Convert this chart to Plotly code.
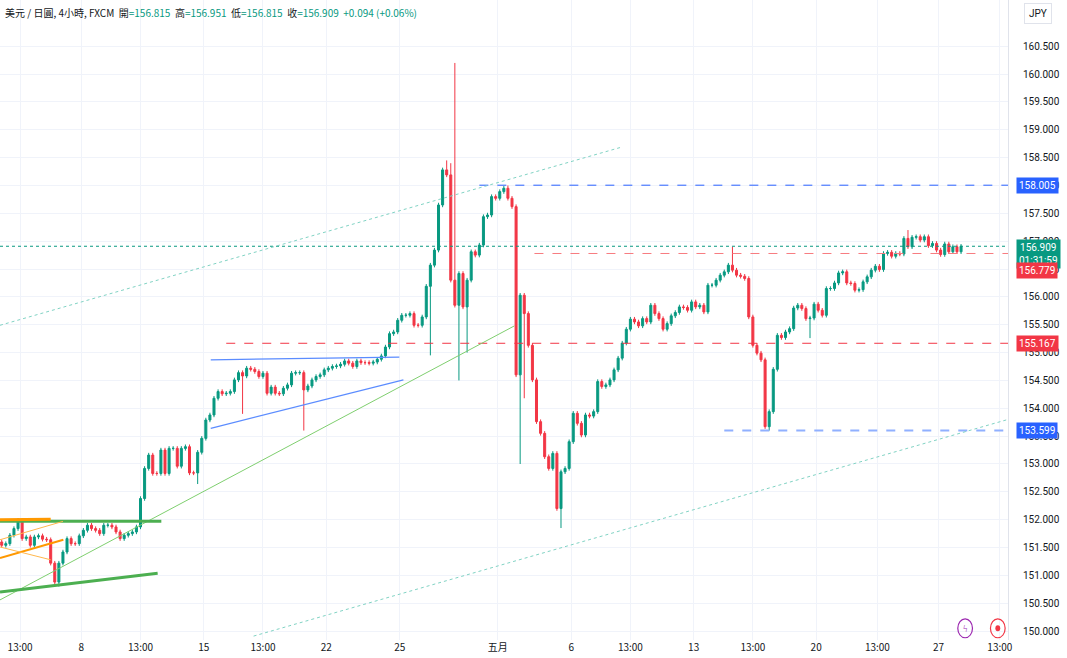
import plotly.graph_objects as go

# 4h closes (open = previous close)
first_open = 151.60
closes = [
    151.54, 151.57, 151.72, 151.84, 151.99, 151.66, 151.69, 151.54, 151.69, 151.71,
    151.65, 151.64, 151.22, 150.88, 151.22, 151.42, 151.66, 151.57, 151.57, 151.71,
    151.81, 151.90, 151.84, 151.81, 151.75, 151.90, 151.90, 151.87, 151.78, 151.66,
    151.72, 151.75, 151.78, 151.87, 152.38, 152.92, 153.16, 152.83, 152.83, 153.25,
    152.83, 153.28, 153.28, 152.96, 153.28, 153.31, 152.84, 152.84, 153.21, 153.46,
    153.79, 153.88, 154.18, 154.30, 154.26, 154.27, 154.30, 154.51, 154.64, 154.58,
    154.72, 154.70, 154.66, 154.57, 154.63, 154.27, 154.38, 154.27, 154.26, 154.36,
    154.42, 154.63, 154.64, 154.64, 154.33, 154.40, 154.51, 154.57, 154.60, 154.69,
    154.72, 154.75, 154.76, 154.79, 154.85, 154.81, 154.75, 154.85, 154.82, 154.82,
    154.81, 154.83, 154.88, 154.94, 155.10, 155.34, 155.37, 155.58, 155.67, 155.67,
    155.70, 155.49, 155.49, 155.64, 156.19, 156.57, 156.84, 157.65, 158.28, 158.19,
    156.30, 155.85, 156.42, 155.82, 156.30, 156.81, 156.75, 156.93, 157.44, 157.47,
    157.80, 157.77, 157.89, 157.95, 157.77, 157.62, 154.60, 156.03, 155.70, 155.13,
    154.51, 153.76, 153.55, 153.13, 152.92, 153.19, 152.20, 152.86, 152.92, 153.40,
    153.91, 153.73, 153.52, 153.88, 153.86, 153.94, 154.48, 154.39, 154.42, 154.51,
    154.69, 154.90, 155.17, 155.42, 155.60, 155.55, 155.48, 155.61, 155.55, 155.85,
    155.70, 155.61, 155.42, 155.52, 155.66, 155.72, 155.82, 155.81, 155.76, 155.91,
    155.82, 155.85, 155.73, 156.21, 156.21, 156.30, 156.39, 156.45, 156.57, 156.48,
    156.39, 156.37, 156.33, 155.64, 155.13, 154.99, 154.87, 153.67, 153.94, 154.70,
    155.31, 155.27, 155.37, 155.43, 155.80, 155.85, 155.79, 155.61, 155.62, 155.87,
    155.76, 155.67, 156.15, 156.15, 156.25, 156.43, 156.45, 156.25, 156.24, 156.12,
    156.13, 156.27, 156.36, 156.48, 156.55, 156.49, 156.78, 156.80, 156.73, 156.78,
    156.77, 157.05, 156.90, 157.07, 157.08, 157.02, 157.08, 156.92, 156.96, 156.84,
    156.76, 156.95, 156.81, 156.90, 156.81, 156.909,
]
# notable wicks (candle index -> price)
wick_highs = {109: 158.45, 110: 158.40, 111: 160.20, 179: 156.90, 222: 157.20, 124: 158.00}
wick_lows = {14: 150.80, 48: 152.64, 59: 153.90, 74: 153.60, 105: 154.95, 112: 154.50,
             114: 155.00, 127: 153.00, 128: 154.18, 137: 151.85, 188: 153.60, 198: 155.26}

tick_pos = [4.5, 19.5, 34, 49.5, 64, 79.5, 97.5, 121.5, 139.5, 154, 169.5, 184, 199.5, 214.5, 229.5, 244.5]
tick_text = ["13:00", "8", "13:00", "15", "13:00", "22", "25", "五月", "6", "13:00", "13", "13:00", "20", "13:00", "27", "13:00"]
price_ticks = [150.0, 150.5, 151.0, 151.5, 152.0, 152.5, 153.0, 153.5, 154.0, 154.5, 155.0,
               155.5, 156.0, 156.5, 157.0, 157.5, 158.0, 158.5, 159.0, 159.5, 160.0, 160.5]

opens = [first_open] + closes[:-1]
highs, lows = [], []
for i, (o, c) in enumerate(zip(opens, closes)):
    highs.append(wick_highs.get(i, max(o, c) + 0.04))
    lows.append(wick_lows.get(i, min(o, c) - 0.04))
idx = list(range(len(closes)))

UP, DOWN = "#089981", "#f23645"
fig = go.Figure(go.Candlestick(
    x=idx, open=opens, high=highs, low=lows, close=closes,
    increasing=dict(line=dict(color=UP, width=1), fillcolor=UP),
    decreasing=dict(line=dict(color=DOWN, width=1), fillcolor=DOWN),
    whiskerwidth=0, hoverinfo="skip", showlegend=False))

X0, X1 = -0.42, 246.5
def seg(x0, y0, x1, y1, color, width=1, dash="solid"):
    fig.add_shape(type="line", x0=x0, y0=y0, x1=x1, y1=y1, xref="x", yref="y",
                  line=dict(color=color, width=width, dash=dash))

# horizontal levels
seg(117, 158.005, X1, 158.005, "#2962ff", 1, "dash")
seg(130.5, 156.779, X1, 156.779, "#f77c80", 1, "dash")
seg(55, 155.167, X1, 155.167, "#f23645", 1, "dash")
seg(177, 153.599, X1, 153.599, "#90b0ff", 2, "dash")
seg(X0, 156.909, X1, 156.909, "#089981", 1, "dot")
# trend lines
seg(X0, 155.49, 151.9, 158.69, "#81d3c4", 1, "dot")
seg(61.7, 149.91, X1, 153.80, "#81d3c4", 1, "dot")
seg(X0, 150.56, 125.6, 155.48, "#7fcf6f", 1)
seg(51.2, 154.87, 97.4, 154.92, "#5b8cff", 1.2)
seg(51.2, 153.64, 98.4, 154.51, "#5b8cff", 1.2)
seg(X0, 151.97, 39.1, 151.97, "#4caf50", 3)
seg(X0, 150.70, 38.2, 151.04, "#4caf50", 3)
seg(X0, 152.00, 12, 152.01, "#ff9800", 3)
seg(X0, 151.64, 15, 151.97, "#ffb74d", 1)
seg(X0, 151.31, 15.1, 151.64, "#ff9800", 2)
seg(X0, 151.51, 12, 151.28, "#ffb74d", 1)

def tag(y, text, bg):
    fig.add_annotation(x=1, xref="paper", y=y, yref="y", text=text, showarrow=False,
                       xanchor="left", xshift=8, bgcolor=bg, borderpad=2,
                       font=dict(color="white", size=10, family="Roboto"))

tag(158.005, "158.005", "#2962ff")
tag(156.77, "156.909<br>01:31:59", "#089981")
tag(156.47, "156.779", "#f23645")
tag(155.167, "155.167", "#f23645")
tag(153.599, "153.599", "#2962ff")

g = "#089981"
header = ("美元 / 日圓, 4小時, FXCM  開<span style='color:%s'>=156.815</span>  高<span style='color:%s'>=156.951</span>"
          "  低<span style='color:%s'>=156.815</span>  收<span style='color:%s'>=156.909  +0.094 (+0.06%%)</span>") % (g, g, g, g)
fig.add_annotation(x=0, y=1, xref="paper", yref="paper", xanchor="left", yanchor="top", xshift=3, yshift=-3,
                   text=header, showarrow=False, font=dict(size=10, color="#131722", family="Noto Sans CJK SC"))
fig.add_annotation(x=1, y=1, xref="paper", yref="paper", xanchor="left", yanchor="top", xshift=16, yshift=-3,
                   text="JPY", showarrow=False, bgcolor="white", bordercolor="#e0e3eb", borderwidth=1, borderpad=4,
                   font=dict(size=10, color="#131722", family="Roboto"))
# bottom-right icons
fig.add_shape(type="circle", xref="x", yref="y", x0=234.2, x1=237.8, y0=149.88, y1=150.22,
              line=dict(color="#9c27b0", width=1.2))
fig.add_annotation(x=236, y=150.05, xref="x", yref="y", text="ϟ", showarrow=False,
                   font=dict(size=10, color="#9c27b0"))
fig.add_shape(type="circle", xref="x", yref="y", x0=242.2, x1=245.8, y0=149.88, y1=150.22,
              line=dict(color="#f23645", width=1.2))
fig.add_shape(type="circle", xref="x", yref="y", x0=243.4, x1=244.6, y0=149.995, y1=150.105,
              fillcolor="#f23645", line=dict(width=0))

fig.update_layout(
    width=1067, height=658, paper_bgcolor="white", plot_bgcolor="white",
    margin=dict(l=0, r=59, t=0, b=18),
    xaxis=dict(range=[X0, X1], rangeslider_visible=False, tickmode="array", tickvals=tick_pos,
               ticktext=tick_text, showgrid=True, gridcolor="#f0f3fa", zeroline=False,
               tickfont=dict(size=10, color="#131722", family="Noto Sans CJK SC"), ticks="", showline=False),
    yaxis=dict(range=[149.84, 161.33], side="right", tickmode="array", tickvals=price_ticks,
               tickformat=".3f", showgrid=True,
               gridcolor="#f0f3fa", zeroline=False, ticks="", ticklabelstandoff=12,
               tickfont=dict(size=10, color="#131722", family="Roboto"),
               showline=True, linecolor="#e0e3eb"),
    font=dict(family="Roboto"),
)
fig.write_html("out.html", config={"displayModeBar": False},
               post_script="document.body.style.margin='0';document.body.style.overflow='hidden';")
